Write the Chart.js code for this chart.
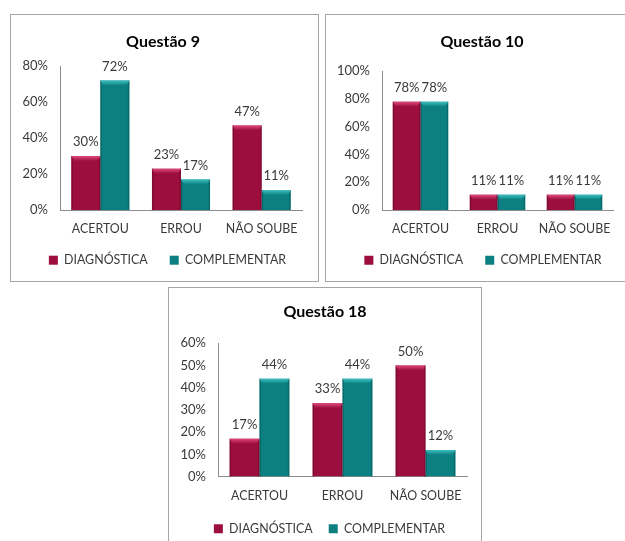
<!DOCTYPE html>
<html>
<head>
<meta charset="utf-8">
<script src="https://cdn.jsdelivr.net/npm/chart.js@4.4.1/dist/chart.umd.min.js"></script>
<style>
  html, body { margin: 0; padding: 0; background: #fff; overflow: hidden; width: 625px; height: 541px; }
  .panel { position: absolute; border: 1px solid #a6a6a6; box-sizing: border-box; background: #fff; }
  #p1 { left: 10px; top: 14px; width: 309px; height: 268px; }
  #p2 { left: 325px; top: 14px; width: 302px; height: 268px; }
  #p3 { left: 168px; top: 287px; width: 314px; height: 268px; }
  canvas { display: block; }
</style>
</head>
<body>
<div class="panel" id="p1"><canvas id="c1" width="307" height="266"></canvas></div>
<div class="panel" id="p2"><canvas id="c2" width="300" height="266"></canvas></div>
<div class="panel" id="p3"><canvas id="c3" width="312" height="266"></canvas></div>
<script>
// dados
const categorias = ['ACERTOU', 'ERROU', 'NÃO SOUBE'];
const series = ['DIAGNÓSTICA', 'COMPLEMENTAR'];

const q9Diagnostica = [30, 23, 47];
const q9Complementar = [72, 17, 11];

const q10Diagnostica = [78, 11, 11];
const q10Complementar = [78, 11, 11];

const q18Diagnostica = [17, 33, 50];
const q18Complementar = [44, 44, 12];

const FONTE = 'Lato, "Open Sans", sans-serif';
const COR_TEXTO = '#3a3a3a';
const CORES = ['#9b0e3d', '#0c7f80'];
const CORES_TOPO = ['#e0487c', '#3cc0c0'];
const CORES_BORDA = ['#6e0a2b', '#075c5d'];

// rótulos de valor acima das barras
const rotulosPlugin = {
    id: 'rotulos',
    afterDatasetsDraw(chart) {
        const ctx = chart.ctx;
        ctx.save();
        ctx.font = '13px ' + FONTE;
        ctx.fillStyle = COR_TEXTO;
        ctx.textAlign = 'center';
        ctx.textBaseline = 'middle';
        chart.data.datasets.forEach((ds, i) => {
            chart.getDatasetMeta(i).data.forEach((bar, j) => {
                ctx.fillText(ds.data[j] + '%', bar.x, bar.y - 14);
            });
        });
        ctx.restore();
    }
};

// efeito de bisel no topo das barras (estilo Excel)
const biselPlugin = {
    id: 'bisel',
    afterDatasetsDraw(chart) {
        const ctx = chart.ctx;
        ctx.save();
        chart.data.datasets.forEach((ds, i) => {
            chart.getDatasetMeta(i).data.forEach(bar => {
                const l = bar.x - bar.width / 2;
                const r = bar.x + bar.width / 2;
                const t = bar.y;
                const b = bar.base;
                const h = Math.min(5, (b - t) / 2);
                // laterais escuras
                ctx.fillStyle = CORES_BORDA[i];
                ctx.globalAlpha = 0.55;
                ctx.fillRect(l, t, 1.5, b - t);
                ctx.fillRect(r - 1.5, t, 1.5, b - t);
                ctx.globalAlpha = 1;
                // topo claro
                const g = ctx.createLinearGradient(0, t, 0, t + h);
                g.addColorStop(0, CORES_TOPO[i]);
                g.addColorStop(1, CORES[i]);
                ctx.fillStyle = g;
                ctx.beginPath();
                ctx.moveTo(l, t);
                ctx.lineTo(r, t);
                ctx.lineTo(r - 3, t + h);
                ctx.lineTo(l + 3, t + h);
                ctx.closePath();
                ctx.fill();
            });
        });
        ctx.restore();
    }
};

// ajuste fino da posição do título e da legenda
const ajustePlugin = {
    id: 'ajuste',
    afterLayout(chart, args, opts) {
        const t = chart.titleBlock;
        if (t) { t.left += opts.tituloDx; t.right += opts.tituloDx; }
        const lg = chart.legend;
        if (lg) {
            lg.left += opts.legendaDx; lg.right += opts.legendaDx;
            lg.top += opts.legendaDy; lg.bottom += opts.legendaDy;
        }
    }
};

function criarGrafico(id, titulo, diag, comp, yMax, yPasso, cfg) {
    new Chart(document.getElementById(id), {
        type: 'bar',
        data: {
            labels: categorias,
            datasets: [
                { label: series[0], data: diag, backgroundColor: CORES[0] },
                { label: series[1], data: comp, backgroundColor: CORES[1] }
            ]
        },
        options: {
            responsive: false,
            animation: false,
            devicePixelRatio: 1,
            categoryPercentage: 0.72,
            barPercentage: 1.0,
            layout: { padding: { left: 0, right: cfg.direita, top: cfg.topo, bottom: cfg.baixo } },
            plugins: {
                title: {
                    display: true,
                    text: titulo,
                    color: '#000',
                    font: { family: FONTE, size: 16, weight: 'bold' },
                    padding: { top: 0, bottom: cfg.tituloBaixo }
                },
                legend: {
                    position: 'bottom',
                    maxHeight: 40,
                    labels: {
                        color: COR_TEXTO,
                        font: { family: FONTE, size: 12.4 },
                        boxWidth: 9,
                        boxHeight: 9,
                        padding: cfg.legendaEsp
                    }
                },
                tooltip: { enabled: false },
                ajuste: { tituloDx: cfg.tituloDx, legendaDx: cfg.legendaDx, legendaDy: cfg.legendaDy }
            },
            scales: {
                x: {
                    grid: { display: false, drawTicks: false },
                    border: { color: '#8c8c8c' },
                    ticks: {
                        color: COR_TEXTO,
                        font: { family: FONTE, size: 12.4 },
                        padding: 12,
                        autoSkip: false,
                        maxRotation: 0,
                        minRotation: 0
                    },
                    afterFit(scale) { scale.height = 28; }
                },
                y: {
                    min: 0,
                    max: yMax,
                    grid: { display: false, drawTicks: false },
                    border: { color: '#8c8c8c' },
                    ticks: {
                        stepSize: yPasso,
                        color: COR_TEXTO,
                        font: { family: FONTE, size: 13 },
                        padding: 12,
                        callback: v => v + '%'
                    },
                    afterFit(scale) { scale.width = cfg.larguraY; }
                }
            }
        },
        plugins: [biselPlugin, rotulosPlugin, ajustePlugin]
    });
}

criarGrafico('c1', 'Questão 9', q9Diagnostica, q9Complementar, 80, 20,
    { direita: 16, topo: 17, tituloBaixo: 15, baixo: 3, larguraY: 49, legendaEsp: 22,
      tituloDx: 6.5, legendaDx: 11, legendaDy: -6 });
criarGrafico('c2', 'Questão 10', q10Diagnostica, q10Complementar, 100, 20,
    { direita: 13, topo: 17, tituloBaixo: 20, baixo: 3, larguraY: 56, legendaEsp: 22,
      tituloDx: 12.5, legendaDx: 13.5, legendaDy: -6 });
criarGrafico('c3', 'Questão 18', q18Diagnostica, q18Complementar, 60, 10,
    { direita: 14, topo: 14, tituloBaixo: 22, baixo: 11, larguraY: 49, legendaEsp: 16,
      tituloDx: 7, legendaDx: 11.5, legendaDy: 2 });
</script>
</body>
</html>
